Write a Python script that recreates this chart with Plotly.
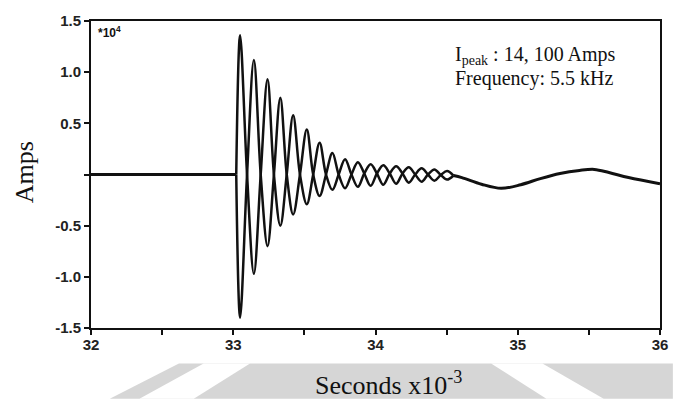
import plotly.graph_objects as go

# ---- data (current in units of 1e4 A, time in ms) ----
pre_t = [32.0, 33.02]
pre_y = [0.0, 0.0]

# zero-crossing (node) times of the fast oscillation
node_t = [33.021, 33.097, 33.193, 33.286, 33.376, 33.469, 33.562, 33.652, 33.741,
          33.831, 33.921, 34.010, 34.100, 34.190, 34.279, 34.369, 34.459, 34.548]
node_y = [0.0, 0.0, 0.0, 0.0, 0.0, 0.0, 0.0, 0.0, 0.0,
          0.0, 0.01, 0.01, 0.01, 0.01, 0.0, 0.0, -0.005, -0.01]
# extremes of each half-cycle (upper / lower envelope of the trace)
osc_t = [33.048, 33.145, 33.241, 33.331, 33.421, 33.517, 33.607, 33.697, 33.786,
         33.876, 33.966, 34.055, 34.145, 34.234, 34.324, 34.414, 34.503]
osc_top = [1.36, 1.12, 0.93, 0.75, 0.58, 0.44, 0.31, 0.21, 0.15,
           0.12, 0.10, 0.09, 0.08, 0.07, 0.06, 0.05, 0.035]
osc_bot = [-1.40, -0.97, -0.70, -0.50, -0.39, -0.29, -0.21, -0.15, -0.135,
           -0.12, -0.11, -0.10, -0.09, -0.08, -0.07, -0.06, -0.05]

tail_t = [34.548, 34.607, 34.745, 34.883, 35.021, 35.159, 35.297, 35.434, 35.538,
          35.641, 35.779, 36.0]
tail_y = [-0.01, -0.03, -0.095, -0.135, -0.10, -0.04, 0.01, 0.04, 0.05,
          0.02, -0.03, -0.09]

x_ticks = [32, 33, 34, 35, 36]
x_minor = [32.5, 33.5, 34.5, 35.5]
y_ticks = [-1.5, -1.0, -0.5, 0.0, 0.5, 1.0, 1.5]
y_labels = ["-1.5", "-1.0", "-0.5", "", "0.5", "1.0", "1.5"]

# ---- build the two interleaved strokes of the scope trace ----
ax, ay, bx, by = [], [], [], []
for i in range(len(osc_t)):
    ax.append(node_t[i]); ay.append(node_y[i])
    bx.append(node_t[i]); by.append(node_y[i])
    ax.append(osc_t[i]); bx.append(osc_t[i])
    if i % 2 == 0:
        ay.append(osc_top[i]); by.append(osc_bot[i])
    else:
        ay.append(osc_bot[i]); by.append(osc_top[i])
ax.append(node_t[-1]); ay.append(node_y[-1])
bx.append(node_t[-1]); by.append(node_y[-1])

ink = "#111111"
fig = go.Figure()
fig.add_trace(go.Scatter(x=pre_t, y=pre_y, mode="lines",
                         line=dict(color=ink, width=3), hoverinfo="skip"))
fig.add_trace(go.Scatter(x=ax, y=ay, mode="lines",
                         line=dict(color=ink, width=2.5, shape="spline", smoothing=1),
                         hoverinfo="skip"))
fig.add_trace(go.Scatter(x=bx, y=by, mode="lines",
                         line=dict(color=ink, width=2.5, shape="spline", smoothing=1),
                         hoverinfo="skip"))
fig.add_trace(go.Scatter(x=tail_t, y=tail_y, mode="lines",
                         line=dict(color=ink, width=3, shape="spline", smoothing=1),
                         hoverinfo="skip"))

L, R, T, B = 91, 667, 16, 328
W, H = R - L, B - T


def px(x):
    return (x - L) / W


def py(y):
    return (B - y) / H


def poly(pts):
    return "M " + " L ".join(f"{px(a):.4f},{py(b):.4f}" for a, b in pts) + " Z"


grey = "#d6d6d6"
shapes = [
    dict(type="path", xref="paper", yref="paper", layer="below",
         path=poly([(110, 400), (180, 364), (680, 364), (680, 400)]),
         fillcolor=grey, line=dict(width=0)),
    dict(type="path", xref="paper", yref="paper", layer="below",
         path=poly([(205, 364), (252, 364), (195, 400), (140, 400)]),
         fillcolor="white", line=dict(width=0)),
    dict(type="path", xref="paper", yref="paper", layer="below",
         path=poly([(496, 364), (548, 364), (610, 400), (552, 400)]),
         fillcolor="white", line=dict(width=0)),
]

serif = "Times New Roman, Liberation Serif, serif"
sans = "Arial, Liberation Sans, sans-serif"

annotations = [
    dict(text="Amps", x=px(24), y=py(170), xref="paper", yref="paper",
         xanchor="center", yanchor="middle",
         textangle=-90, showarrow=False, font=dict(family=serif, size=26, color="#111")),
    dict(text="Seconds x10<sup>-3</sup>", x=px(392), y=py(384), xref="paper", yref="paper",
         xanchor="center", yanchor="middle",
         showarrow=False, font=dict(family=serif, size=26, color="#111")),
    dict(text="I<sub>peak</sub> : 14, 100 Amps", x=px(457), y=py(51), xref="paper", yref="paper",
         xanchor="left", yanchor="middle", showarrow=False,
         font=dict(family=serif, size=20, color="#111")),
    dict(text="Frequency: 5.5 kHz", x=px(457), y=py(74), xref="paper", yref="paper",
         xanchor="left", yanchor="middle", showarrow=False,
         font=dict(family=serif, size=20, color="#111")),
    dict(text="*10<sup>4</sup>", x=px(96), y=py(27), xref="paper", yref="paper",
         xanchor="left", yanchor="middle", showarrow=False,
         font=dict(family=sans, size=12, color="#111", weight="bold")),
]

fig.update_layout(
    width=680, height=400,
    margin=dict(l=L, r=680 - R, t=T, b=400 - B),
    paper_bgcolor="white", plot_bgcolor="white",
    showlegend=False,
    shapes=shapes, annotations=annotations,
    xaxis=dict(range=[32, 36], tickvals=x_ticks, ticktext=[str(v) for v in x_ticks],
               ticks="outside", ticklen=5, tickwidth=2, tickcolor=ink,
               ticklabelstandoff=-3,
               minor=dict(tickvals=x_minor, ticks="outside", ticklen=5, tickwidth=2, tickcolor=ink),
               showline=True, mirror=True, linewidth=2, linecolor=ink,
               showgrid=False, zeroline=False,
               tickfont=dict(family=sans, size=15, color="#222", weight="bold")),
    yaxis=dict(range=[-1.5, 1.5], tickvals=y_ticks, ticktext=y_labels,
               ticks="outside", ticklen=5, tickwidth=2, tickcolor=ink,
               showline=True, mirror=True, linewidth=2, linecolor=ink,
               showgrid=False, zeroline=False,
               tickfont=dict(family=sans, size=15, color="#222", weight="bold")),
)

fig.write_html("out.html")
